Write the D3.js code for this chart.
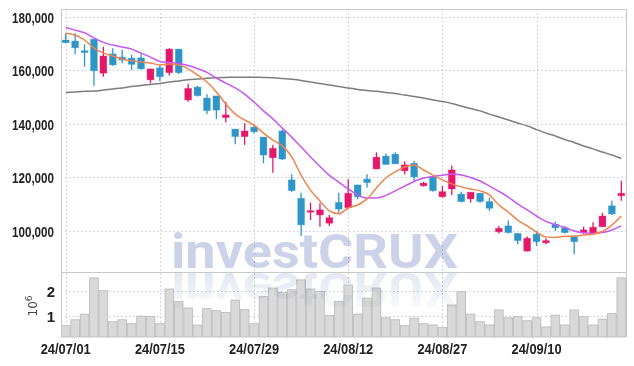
<!DOCTYPE html>
<html>
<head>
<meta charset="utf-8">
<script src="https://cdn.jsdelivr.net/npm/d3@7"></script>
<style>
body { margin: 0; background: #fff; }
svg text { font-family: "Liberation Sans", Arial, sans-serif; }
</style>
</head>
<body>
<svg width="634" height="366"></svg>
<script>
// trading days shown on the chart
var dates = ["24/07/01","24/07/02","24/07/03","24/07/04","24/07/05","24/07/08","24/07/09","24/07/10","24/07/11","24/07/12",
  "24/07/15","24/07/16","24/07/17","24/07/18","24/07/19","24/07/22","24/07/23","24/07/24","24/07/25","24/07/26",
  "24/07/29","24/07/30","24/07/31","24/08/01","24/08/02","24/08/05","24/08/06","24/08/07","24/08/08","24/08/09",
  "24/08/12","24/08/13","24/08/14","24/08/16","24/08/19","24/08/20","24/08/21","24/08/22","24/08/23","24/08/26",
  "24/08/27","24/08/28","24/08/29","24/08/30","24/09/02","24/09/03","24/09/04","24/09/05","24/09/06","24/09/09",
  "24/09/10","24/09/11","24/09/12","24/09/13","24/09/19","24/09/20","24/09/23","24/09/24","24/09/25","24/09/26"];

var openPx = [171400,171000,167400,171700,159000,166200,165000,164600,164700,156500,
  161000,159200,168000,149000,153800,149700,150500,142400,138100,135300,
  138800,135100,127400,137400,119100,112200,107100,106000,102900,110700,
  108700,117200,119400,123200,128000,128700,122500,125300,116900,120100,
  112800,115700,113800,112000,114100,111000,99700,101900,99100,92500,
  98800,95600,102500,101200,97900,99400,98900,101600,109400,113200];
var highPx = [173900,173900,169800,171700,168900,168300,167700,165800,166100,160600,
  162100,168300,168000,155000,154300,151100,150500,148300,138100,140300,
  140000,135100,132200,138000,121200,114300,110600,110400,106000,114300,
  119300,117300,121200,129400,129000,129400,126100,126200,118400,120100,
  116800,124400,114700,114500,114100,112500,101900,103900,99100,97900,
  100000,97300,103500,101900,97900,101600,103300,106800,111300,118800];
var lowPx = [170200,166100,161400,154300,157700,161800,162700,160200,160400,155200,
  156100,158100,158700,148300,150300,143600,141900,140600,132400,132200,
  136500,125300,121800,126500,114700,98100,104100,101600,101900,106800,
  108500,111900,116300,123100,124700,125100,121100,118400,116600,114700,
  112500,113500,110700,110600,110600,107500,99100,99100,95000,92300,
  94400,95000,100000,99100,91300,98900,98500,101500,106000,111300];
var closePx = [170400,168500,166700,159900,165400,162100,163900,162300,160600,160600,
  157700,168000,159200,153300,150600,145000,145200,143400,135300,137400,
  137100,128400,130900,126900,115100,102300,107600,107900,105000,108200,
  114100,112800,118100,127600,124900,125100,124700,120200,117900,115100,
  114700,122800,111000,114500,111000,108500,101000,99400,96400,97300,
  96000,96400,101200,99400,96000,100400,101400,105600,106400,114100];
var volume = [610000,850000,1080000,2550000,2030000,770000,850000,690000,1000000,980000,
  690000,2100000,1590000,1330000,640000,1300000,1220000,1140000,1650000,1260000,
  690000,1790000,2140000,1960000,2070000,2470000,2100000,2000000,1020000,1600000,
  2260000,1080000,1730000,2140000,930000,850000,610000,920000,690000,640000,
  530000,1450000,1990000,1080000,770000,640000,1250000,930000,980000,810000,
  930000,560000,1040000,640000,1250000,980000,640000,880000,1100000,2550000];

// moving averages
var ma5 = [173900,173300,171400,168400,166500,165400,164300,163600,163200,162800,
  162100,162400,162100,160600,158300,155700,152000,147500,143700,141500,
  139600,136600,134000,131800,127700,120900,115300,111200,107500,106400,
  108600,109700,112000,116100,119800,122100,123900,124700,122800,120900,
  119100,117600,116500,115700,115000,113500,109700,107100,104100,101900,
  99600,97800,97600,98000,98100,98500,98900,99800,102200,105600];
var ma10 = [176100,175100,174100,172200,170500,169500,168800,168000,166500,165000,
  163400,163000,162600,161900,160700,159300,157200,155300,153500,151200,
  148200,144900,141900,138500,135100,131400,127700,124100,120800,118300,
  115700,113500,112300,112300,113300,115000,116800,118500,119800,120400,
  120800,121300,120900,120000,118700,116800,114800,112700,110100,107900,
  105600,103600,102400,101300,100000,99300,99100,99400,100400,101900];
var maLong = [151800,152000,152200,152300,152700,153100,153500,154000,154400,154800,
  155100,155700,156100,156500,156800,157100,157300,157400,157500,157500,
  157500,157400,157300,157000,156700,156300,155700,155100,154600,154000,
  153500,152900,152500,152200,151800,151400,150800,150300,149700,149000,
  148400,147700,146700,145800,144900,143700,142600,141500,140400,139300,
  137900,136600,135500,134200,133100,131800,130700,129500,128400,127100];

var priceTicks = [100000, 120000, 140000, 160000, 180000];
var volTicks = [1000000, 2000000];
var dateTicks = ["24/07/01","24/07/15","24/07/29","24/08/12","24/08/27","24/09/10"];

var svg = d3.select("svg");
var plotL = 61, plotR = 626, plotT = 9, plotM = 272, plotB = 337;

var x = d3.scaleBand().domain(dates).range([plotL, plotR]).padding(0);
var bw = x.bandwidth();
var cx = function(i) { return x(dates[i]) + bw / 2; };
var y = d3.scaleLinear().domain([84670, 182990]).range([plotM, plotT]);
var vy = d3.scaleLinear().domain([150000, 2790000]).range([plotB, plotM]);

var gridColor = "#c6c9dd";

// grid
var grid = svg.append("g");
grid.selectAll(".hg").data(priceTicks).enter().append("line")
  .attr("x1", plotL).attr("x2", plotR)
  .attr("y1", function(d) { return Math.round(y(d)) + 0.5; })
  .attr("y2", function(d) { return Math.round(y(d)) + 0.5; })
  .style("stroke", gridColor).style("stroke-dasharray", "1.5,2.5");
grid.selectAll(".vg").data(volTicks).enter().append("line")
  .attr("x1", plotL).attr("x2", plotR)
  .attr("y1", function(d) { return Math.round(vy(d)) + 0.5; })
  .attr("y2", function(d) { return Math.round(vy(d)) + 0.5; })
  .style("stroke", gridColor).style("stroke-dasharray", "1.5,2.5");
grid.selectAll(".xg").data(dateTicks).enter().append("line")
  .attr("x1", function(d) { return Math.round(x(d) + bw / 2) + 0.5; })
  .attr("x2", function(d) { return Math.round(x(d) + bw / 2) + 0.5; })
  .attr("y1", plotT).attr("y2", plotB)
  .style("stroke", gridColor).style("stroke-dasharray", "1.5,2.5");

// volume bars
svg.append("g").selectAll("rect").data(volume).enter().append("rect")
  .attr("x", function(d, i) { return x(dates[i]) + 0.4; })
  .attr("width", bw - 0.8)
  .attr("y", function(d) { return vy(d); })
  .attr("height", function(d) { return plotB - vy(d); })
  .style("fill", "#d9d9d9").style("stroke", "#b9b9b9").style("stroke-width", 0.8);

// watermark with reflection
var defs = svg.append("defs");
var grad = defs.append("linearGradient").attr("id", "refl")
  .attr("x1", 0).attr("y1", 0).attr("x2", 0).attr("y2", 1);
grad.append("stop").attr("offset", "0%").attr("stop-color", "#ffffff");
grad.append("stop").attr("offset", "100%").attr("stop-color", "#dde1ee");

var wm = svg.append("g").style("mix-blend-mode", "multiply");
wm.append("text").attr("x", 171).attr("y", 268)
  .text("investCRUX")
  .attr("textLength", 287).attr("lengthAdjust", "spacingAndGlyphs")
  .style("font-family", "Roboto, 'DejaVu Sans', sans-serif")
  .style("font-weight", "bold").style("font-size", "49px")
  .style("fill", "#ccd3e8");
wm.append("text").attr("x", 171).attr("y", 268)
  .attr("transform", "translate(0,541) scale(1,-1)")
  .text("investCRUX")
  .attr("textLength", 287).attr("lengthAdjust", "spacingAndGlyphs")
  .style("font-family", "Roboto, 'DejaVu Sans', sans-serif")
  .style("font-weight", "bold").style("font-size", "49px")
  .style("fill", "url(#refl)");

// frame
var frameColor = "#c9c9c9";
svg.append("rect").attr("x", plotL + 0.5).attr("y", plotT + 0.5)
  .attr("width", plotR - plotL).attr("height", plotM - plotT)
  .style("fill", "none").style("stroke", frameColor);
svg.append("line").attr("x1", plotL + 0.5).attr("x2", plotL + 0.5).attr("y1", plotM).attr("y2", plotB)
  .style("stroke", frameColor);
svg.append("line").attr("x1", plotR + 0.5).attr("x2", plotR + 0.5).attr("y1", plotM).attr("y2", plotB)
  .style("stroke", frameColor);

// candles
var up = "#e3186a", down = "#2d95c8";
var col = function(i) { return closePx[i] >= openPx[i] ? up : down; };
var candle = svg.append("g").selectAll("g").data(dates).enter().append("g");
candle.append("line")
  .attr("x1", function(d, i) { return cx(i); })
  .attr("x2", function(d, i) { return cx(i); })
  .attr("y1", function(d, i) { return y(highPx[i]); })
  .attr("y2", function(d, i) { return y(lowPx[i]); })
  .style("stroke", function(d, i) { return col(i); })
  .style("stroke-width", 1.3);
candle.append("rect")
  .attr("x", function(d, i) { return cx(i) - 3.4; })
  .attr("width", 6.8)
  .attr("y", function(d, i) { return y(Math.max(openPx[i], closePx[i])); })
  .attr("height", function(d, i) { return Math.max(1.5, Math.abs(y(openPx[i]) - y(closePx[i]))); })
  .style("fill", function(d, i) { return col(i); })
  .style("stroke", function(d, i) { return col(i); })
  .style("stroke-opacity", 0.35).style("stroke-width", 1);

// moving average lines
var line = d3.line().x(function(d, i) { return cx(i); }).y(function(d) { return y(d); })
  .curve(d3.curveMonotoneX);
svg.append("path").datum(maLong).attr("d", line)
  .style("fill", "none").style("stroke", "#7d7d7d").style("stroke-width", 1.5);
svg.append("path").datum(ma10).attr("d", line)
  .style("fill", "none").style("stroke", "#c857f0").style("stroke-width", 1.5);
svg.append("path").datum(ma5).attr("d", line)
  .style("fill", "none").style("stroke", "#ef844c").style("stroke-width", 1.5);

// axis labels
var labelColor = "#222";
svg.append("g").selectAll("text").data(priceTicks).enter().append("text")
  .attr("x", 54).attr("y", function(d) { return y(d) + 6; })
  .attr("text-anchor", "end")
  .attr("textLength", 42).attr("lengthAdjust", "spacingAndGlyphs")
  .text(function(d) { return d3.format(",")(d); })
  .style("font-size", "15px").style("font-weight", "bold").style("fill", labelColor);
svg.append("g").selectAll("text").data(volTicks).enter().append("text")
  .attr("x", 55).attr("y", function(d) { return vy(d) + 5.5; })
  .attr("text-anchor", "end")
  .text(function(d) { return d / 1000000; })
  .style("font-size", "15px").style("font-weight", "bold").style("fill", labelColor);
var pow = svg.append("text").attr("transform", "translate(37,306) rotate(-90)")
  .attr("text-anchor", "middle")
  .style("font-family", "'DejaVu Sans', sans-serif")
  .style("font-size", "12px").style("fill", "#444");
pow.append("tspan").text("10");
pow.append("tspan").attr("dy", -5).style("font-size", "9px").text("6");
svg.append("g").selectAll("text").data(dateTicks).enter().append("text")
  .attr("x", function(d) { return x(d) + bw / 2; }).attr("y", 354)
  .attr("text-anchor", "middle")
  .attr("textLength", 50).attr("lengthAdjust", "spacingAndGlyphs")
  .text(function(d) { return d; })
  .style("font-size", "15px").style("font-weight", "bold").style("fill", labelColor);
</script>
</body>
</html>
